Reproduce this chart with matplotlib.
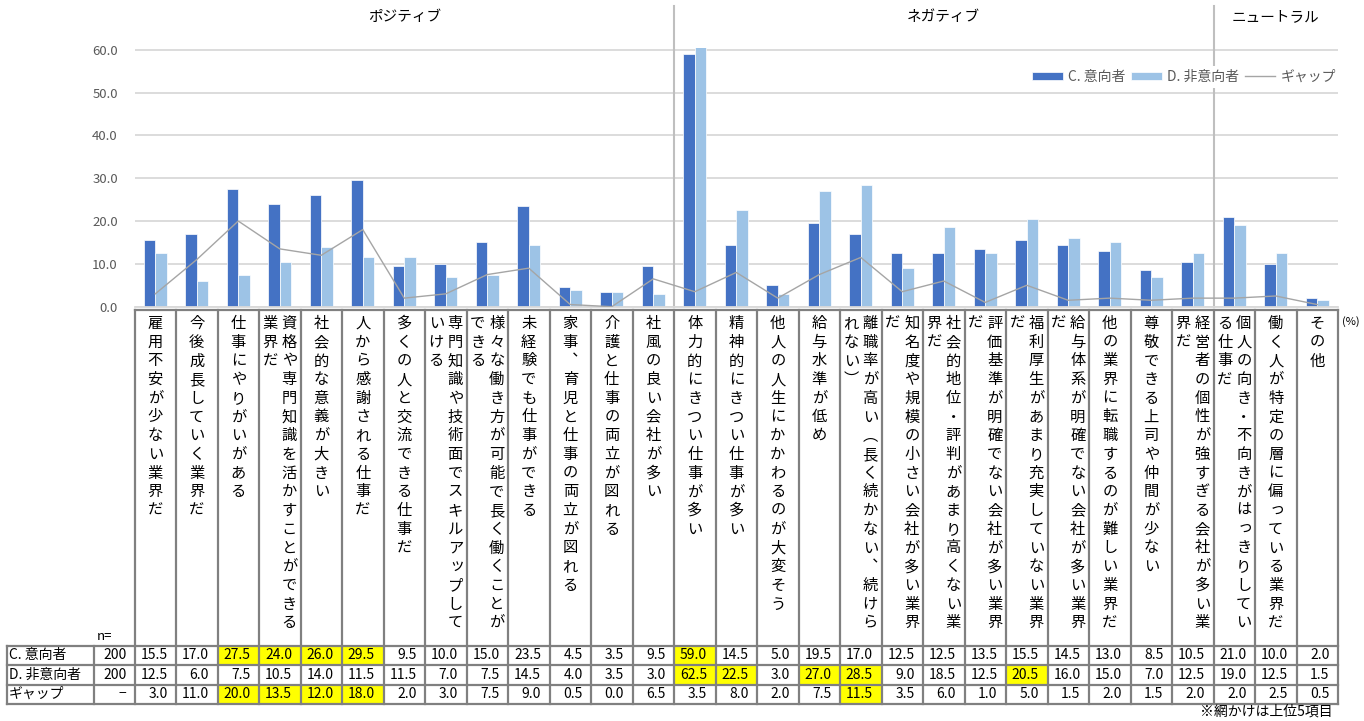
import matplotlib
matplotlib.use("Agg")
import matplotlib.pyplot as plt
import matplotlib.transforms as mtransforms
from matplotlib.patches import Rectangle
from matplotlib.lines import Line2D
from matplotlib import font_manager
from matplotlib.ft2font import FT2Font
import numpy as np

plt.rcParams["font.family"] = ["Noto Sans CJK JP", "DejaVu Sans"]

# ---------------------------------------------------------------- data
categories = [
    "雇用不安が少ない業界だ",
    "今後成長していく業界だ",
    "仕事にやりがいがある",
    "資格や専門知識を活かすことができる業界だ",
    "社会的な意義が大きい",
    "人から感謝される仕事だ",
    "多くの人と交流できる仕事だ",
    "専門知識や技術面でスキルアップしていける",
    "様々な働き方が可能で長く働くことができる",
    "未経験でも仕事ができる",
    "家事、育児と仕事の両立が図れる",
    "介護と仕事の両立が図れる",
    "社風の良い会社が多い",
    "体力的にきつい仕事が多い",
    "精神的にきつい仕事が多い",
    "他人の人生にかかわるのが大変そう",
    "給与水準が低め",
    "離職率が高い（長く続かない、続けられない）",
    "知名度や規模の小さい会社が多い業界だ",
    "社会的地位・評判があまり高くない業界だ",
    "評価基準が明確でない会社が多い業界だ",
    "福利厚生があまり充実していない業界だ",
    "給与体系が明確でない会社が多い業界だ",
    "他の業界に転職するのが難しい業界だ",
    "尊敬できる上司や仲間が少ない",
    "経営者の個性が強すぎる会社が多い業界だ",
    "個人の向き・不向きがはっきりしている仕事だ",
    "働く人が特定の層に偏っている業界だ",
    "その他",
]
group_names = ["ポジティブ", "ネガティブ", "ニュートラル"]
group_sizes = [13, 13, 3]

series_names = ["C. 意向者", "D. 非意向者", "ギャップ"]
n_values = ["200", "200", "−"]

intent = [15.5, 17.0, 27.5, 24.0, 26.0, 29.5, 9.5, 10.0, 15.0, 23.5, 4.5, 3.5, 9.5,
          59.0, 14.5, 5.0, 19.5, 17.0, 12.5, 12.5, 13.5, 15.5, 14.5, 13.0, 8.5, 10.5,
          21.0, 10.0, 2.0]
non_intent = [12.5, 6.0, 7.5, 10.5, 14.0, 11.5, 11.5, 7.0, 7.5, 14.5, 4.0, 3.5, 3.0,
              62.5, 22.5, 3.0, 27.0, 28.5, 9.0, 18.5, 12.5, 20.5, 16.0, 15.0, 7.0, 12.5,
              19.0, 12.5, 1.5]
gap = [3.0, 11.0, 20.0, 13.5, 12.0, 18.0, 2.0, 3.0, 7.5, 9.0, 0.5, 0.0, 6.5,
       3.5, 8.0, 2.0, 7.5, 11.5, 3.5, 6.0, 1.0, 5.0, 1.5, 2.0, 1.5, 2.0,
       2.0, 2.5, 0.5]
yticks = [0, 10, 20, 30, 40, 50, 60]
top_n = 5
note_text = "※網かけは上位5項目"
unit_text = "(%)"

# ---------------------------------------------------------------- style
W, H, DPI = 1364, 721, 100
BLUE = "#4472C4"
LIGHT = "#9DC3E6"
GAPC = "#A5A5A5"
GRID = "#D9D9D9"
BORDER = "#808080"
SEP = "#BFBFBF"
TXT_GRAY = "#595959"
HILITE = "#FFFF00"

fig = plt.figure(figsize=(W / DPI, H / DPI), dpi=DPI)
fig.patch.set_facecolor("white")
# pixel coordinates measured from the top-left corner of the figure
pxT = mtransforms.Affine2D().scale(1.0 / W, -1.0 / H).translate(0, 1) + fig.transFigure

ax_left, ax_right = 134.5, 1338.0
ax_bottom, ax_top = 306.7, 48.2
ax = fig.add_axes([ax_left / W, 1 - ax_bottom / H,
                   (ax_right - ax_left) / W, (ax_bottom - ax_top) / H])
n_cat = len(categories)
x = np.arange(n_cat)
ax.set_xlim(-0.5, n_cat - 0.5)
ax.set_ylim(0, 60.35)

bw = 0.278
bars_c = ax.bar(x - bw / 2, intent, width=bw, color=BLUE, edgecolor="white", linewidth=0.5, zorder=2)
bars_d = ax.bar(x + bw / 2, non_intent, width=bw, color=LIGHT, edgecolor="white", linewidth=0.5, zorder=2)
gap_line, = ax.plot(x, gap, color=GAPC, linewidth=1.0, zorder=3)

ax.set_yticks(yticks)
ax.set_yticklabels([f"{v:.1f}" for v in yticks], color=TXT_GRAY, fontsize=9.5)
ax.tick_params(axis="y", length=0, pad=12)
ax.set_xticks([])
ax.yaxis.grid(True, color=GRID, linewidth=1.3)
ax.set_axisbelow(True)
for side in ["top", "right", "left"]:
    ax.spines[side].set_visible(False)
ax.spines["bottom"].set_color(GRID)
ax.spines["bottom"].set_linewidth(1.3)

# group separators and titles
blend = mtransforms.blended_transform_factory(ax.transData, pxT)
bounds = np.concatenate([[-0.5], np.cumsum(group_sizes) - 0.5])
for b in bounds[1:-1]:
    ln = Line2D([b, b], [6, ax_bottom], transform=blend, color=SEP, linewidth=1.5,
                clip_on=False, zorder=1)
    ax.add_artist(ln)
for name, b0, b1 in zip(group_names, bounds[:-1], bounds[1:]):
    fig.text((b0 + b1) / 2, 17, name, transform=blend, ha="center", va="center",
             fontsize=10.5, color="black")

# legend
leg = ax.legend([bars_c, bars_d, gap_line], series_names, ncol=3,
                loc="center right", bbox_to_anchor=(1340 / W, 1 - 77 / H),
                bbox_transform=fig.transFigure, frameon=True, facecolor="white",
                edgecolor="none", framealpha=1, fontsize=10, labelcolor=TXT_GRAY,
                handlelength=2.2, handleheight=0.55, handletextpad=0.35,
                columnspacing=0.45, borderpad=0.3, borderaxespad=0)
leg.set_zorder(5)

# ---------------------------------------------------------------- category cells
fig.canvas.draw()
edges_px = [ax.transData.transform((e, 0))[0] for e in np.arange(n_cat + 1) - 0.5]
centers_px = [ax.transData.transform((c, 0))[0] for c in x]
right_px = edges_px[-1]

cell_top = 310.0
row_edges = [645.5, 665.0, 684.5, 703.5]
table_left = 6.7
n_col_left = 94.0
lw_b = 1.6

LABEL_FS = 11
em = LABEL_FS * DPI / 72
COL_LEN = 17
CHAR_PITCH = 18.7
COL_GAP = 19.0
FIRST_CHAR_Y = 323.5
small_kana = set("っッゃャゅュょョぁァぃィぅゥぇェぉォ")

# vertical presentation forms, used when the font provides them
cjk_font = FT2Font(font_manager.findfont("Noto Sans CJK JP"))
vertical_forms = {"（": "\ufe35", "）": "\ufe36", "、": "\ufe11"}
usable_vertical = {k: v for k, v in vertical_forms.items()
                   if cjk_font.get_char_index(ord(v)) != 0}

for i, label in enumerate(categories):
    cols = [label[k:k + COL_LEN] for k in range(0, len(label), COL_LEN)]
    ncols = len(cols)
    for j, col in enumerate(cols):
        cx = centers_px[i] + ((ncols - 1) / 2 - j) * COL_GAP
        for k, ch in enumerate(col):
            cy = FIRST_CHAR_Y + k * CHAR_PITCH
            rot, dx, dy = 0, 0.0, 0.0
            glyph = ch
            if ch in usable_vertical:
                glyph = usable_vertical[ch]
            elif ch == "（":
                rot, dy = -90, -0.25 * em
            elif ch == "）":
                rot, dy = -90, 0.25 * em
            elif ch in "、。":
                dx, dy = 0.35 * em, -0.3 * em
            elif ch in small_kana:
                dx, dy = 0.1 * em, -0.1 * em
            fig.text(cx + dx, cy + dy, glyph, transform=pxT, ha="center", va="center",
                     rotation=rot, rotation_mode="anchor", fontsize=LABEL_FS, color="black")

fig.text(right_px + 4, 322, unit_text, transform=pxT, ha="left", va="center",
         fontsize=8, color="black")

# ---------------------------------------------------------------- data table
rows = [intent, non_intent, gap]
for r, vals in enumerate(rows):
    y0, y1 = row_edges[r], row_edges[r + 1]
    top_idx = set(np.argsort(vals)[::-1][:top_n])
    for i, v in enumerate(vals):
        if i in top_idx:
            fig.add_artist(Rectangle((edges_px[i], y0), edges_px[i + 1] - edges_px[i], y1 - y0,
                                     transform=pxT, facecolor=HILITE, edgecolor="none", zorder=1))
        fig.text(edges_px[i + 1] - 8.5, (y0 + y1) / 2, f"{v:.1f}", transform=pxT,
                 ha="right", va="center", fontsize=10, color="black", zorder=4)
    fig.text(table_left + 2, (y0 + y1) / 2, series_names[r], transform=pxT,
             ha="left", va="center", fontsize=10, color="black", zorder=4)
    fig.text(edges_px[0] - 8, (y0 + y1) / 2, n_values[r], transform=pxT,
             ha="right", va="center", fontsize=10, color="black", zorder=4)

fig.text(n_col_left + 3, 637, "n=", transform=pxT, ha="left", va="center",
         fontsize=9.5, color="black")

def seg(x0, y0, x1, y1):
    fig.add_artist(Line2D([x0, x1], [y0, y1], transform=pxT, color=BORDER,
                          linewidth=lw_b, zorder=3, solid_capstyle="projecting"))

seg(edges_px[0], cell_top, right_px, cell_top)
for ye in row_edges:
    seg(table_left, ye, right_px, ye)
for xe in edges_px:
    seg(xe, cell_top, xe, row_edges[-1])
seg(table_left, row_edges[0], table_left, row_edges[-1])
seg(n_col_left, row_edges[0], n_col_left, row_edges[-1])

fig.text(1333, 712, note_text, transform=pxT, ha="right", va="center",
         fontsize=10, color="black")

fig.savefig("out.png", dpi=DPI, facecolor="white")
